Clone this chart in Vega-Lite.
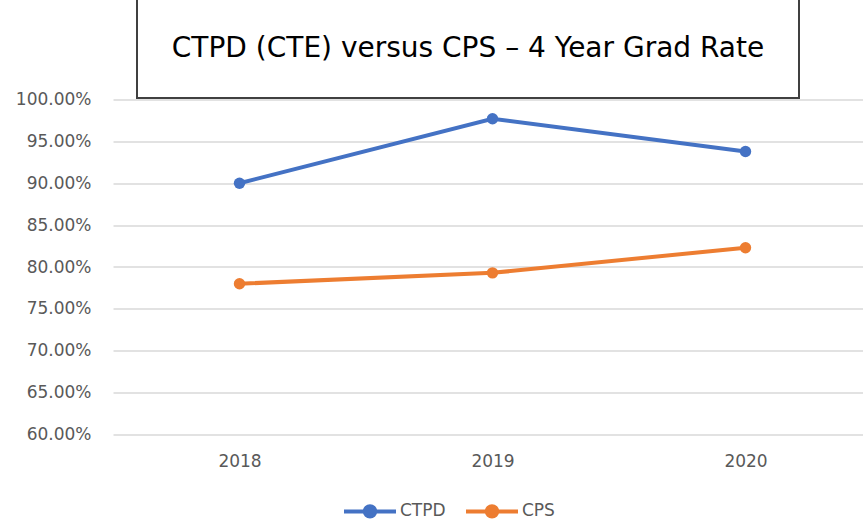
{
  "$schema": "https://vega.github.io/schema/vega-lite/v6.json",
  "padding": {"left": 5, "top": -2, "right": 0, "bottom": 0},
  "config": {"view": {"stroke": null}, "font": "DejaVu Sans"},
  "spacing": -8.5,
  "vconcat": [
    {
      "spacing": 23,
      "bounds": "flush",
      "hconcat": [
        {
          "width": 1,
          "height": 99,
          "data": {"values": [{"t": ""}]},
          "mark": {"type": "text"},
          "encoding": {"text": {"field": "t"}}
        },
        {
          "width": 662,
          "height": 99,
          "view": {"stroke": "#404040", "strokeWidth": 2},
          "data": {"values": [{"t": "CTPD (CTE) versus CPS – 4 Year Grad Rate"}]},
          "mark": {"type": "text", "font": "DejaVu Sans", "fontSize": 28, "color": "#000000", "baseline": "middle", "align": "center"},
          "encoding": {"text": {"field": "t"}}
        }
      ]
    },
    {
      "width": 759,
      "height": 335,
      "data": {
        "values": [
          {"series": "CTPD", "year": "2018", "rate": 0.900},
          {"series": "CTPD", "year": "2019", "rate": 0.977},
          {"series": "CTPD", "year": "2020", "rate": 0.938},
          {"series": "CPS", "year": "2018", "rate": 0.780},
          {"series": "CPS", "year": "2019", "rate": 0.793},
          {"series": "CPS", "year": "2020", "rate": 0.823}
        ]
      },
      "mark": {"type": "line", "strokeWidth": 4, "point": {"size": 130, "filled": true}},
      "encoding": {
        "x": {
          "field": "year",
          "type": "ordinal",
          "scale": {"type": "point", "padding": 0.5},
          "axis": {"title": null, "labelAngle": 0, "ticks": false, "domain": false, "grid": false, "labelPadding": 19, "labelFontSize": 17, "labelColor": "#595959"}
        },
        "y": {
          "field": "rate",
          "type": "quantitative",
          "scale": {"domain": [0.6, 1.0], "nice": false, "zero": false},
          "axis": {"title": null, "format": ".2%", "values": [0.6, 0.65, 0.7, 0.75, 0.8, 0.85, 0.9, 0.95, 1.0], "ticks": false, "domain": false, "gridColor": "#d9d9d9", "gridWidth": 1.5, "labelPadding": 22, "labelFontSize": 17, "labelColor": "#595959", "minExtent": 108, "maxExtent": 108}
        },
        "color": {
          "field": "series",
          "type": "nominal",
          "scale": {"domain": ["CTPD", "CPS"], "range": ["#4472C4", "#ED7D31"]},
          "legend": {
            "title": null,
            "orient": "none",
            "direction": "horizontal",
            "legendX": 229,
            "legendY": 484,
            "symbolType": "M-1,0L1,0M-0.2,0a0.2,0.2 0 1,0 0.4,0a0.2,0.2 0 1,0 -0.4,0",
            "symbolSize": 2704,
            "symbolStrokeWidth": 4,
            "labelFontSize": 17,
            "labelColor": "#595959",
            "labelOffset": 2,
            "columnPadding": 12,
            "encode": {"symbols": {"update": {"fill": {"scale": "color", "field": "value"}}}}
          }
        }
      }
    }
  ]
}
